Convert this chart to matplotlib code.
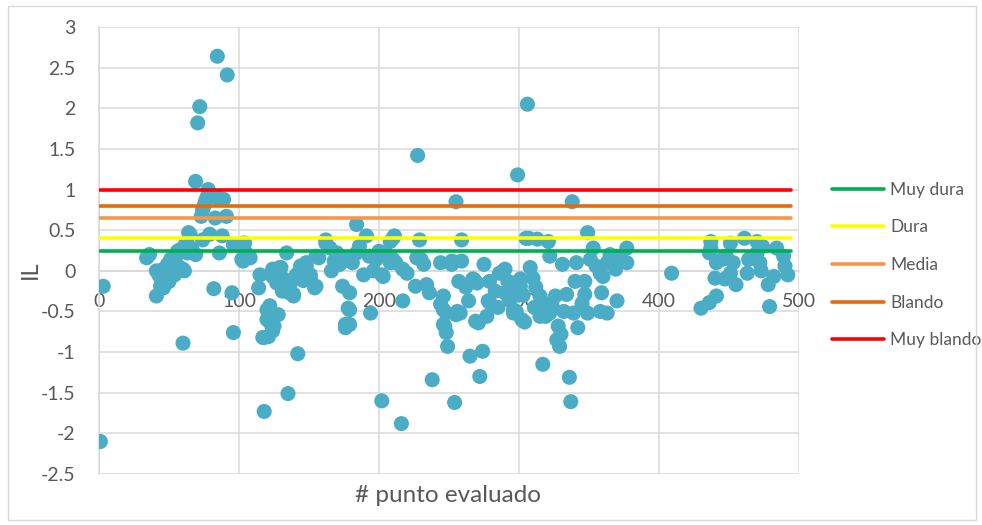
import matplotlib
matplotlib.use("Agg")
import matplotlib.pyplot as plt
from matplotlib.patches import Rectangle

plt.rcParams['font.family'] = ['Lato', 'DejaVu Sans']

# IL per evaluated point
punto = [
    1, 3,
    34, 36, 41, 41, 44, 46, 46, 48, 50, 51, 51, 55, 58, 60, 61, 60, 62, 64, 65,
    53, 56, 63, 66, 57, 54, 49, 45, 43,
    69, 69, 70.5, 72, 73, 74, 74, 75, 77, 78, 79, 82, 82, 83, 84.5, 86, 86, 88, 89,
    91, 91.6, 95, 96, 96, 76, 80, 85,
    101, 102, 103, 104, 105, 108, 103, 114, 115, 117, 118, 118, 120, 120, 121, 122,
    123, 124, 124, 124, 125, 126, 128, 129, 130, 134, 134, 135, 135, 136, 139, 139,
    142, 144, 144, 148, 148, 151, 151, 154, 155, 155, 157,
    132, 137, 141, 146, 127, 131,
    162, 162, 166, 170, 174, 176, 176, 178, 179, 179, 179, 184, 184, 189, 191, 194,
    198, 202, 202, 203, 208, 208,
    165, 168, 172, 176, 181, 186, 193, 196, 200, 205,
    210, 210, 211, 212, 216, 217, 217, 220, 226, 227, 227.6, 229, 230, 232, 234, 236,
    238, 244, 244, 246, 246, 246, 247, 248, 248, 249, 252, 252, 254, 255, 255, 256,
    257, 259, 259, 258,
    264, 265, 267, 268, 269, 270, 271, 272, 274, 275, 277, 278, 279, 279, 286, 289,
    290, 290, 292, 296, 296, 296, 298, 299,
    262, 283, 285, 293, 299, 303, 311, 318, 324, 332, 345, 312,
    301, 301, 302, 304, 305, 306, 307, 308, 310, 313, 314, 315, 315, 317, 319, 321,
    322, 322, 326, 327, 328, 329, 330, 331, 334, 336, 337, 338, 339, 340, 341, 342,
    347, 347, 349, 349, 351, 353, 355, 358, 358, 359, 360, 363, 363, 365, 369, 370,
    370, 372, 377, 377,
    409, 430, 436, 441, 437, 437, 436, 441, 440, 445, 448, 451, 447, 451, 453, 455,
    461, 464, 463, 470, 470, 472, 473, 474, 478, 479, 482, 484, 489, 490, 492,
]
il = [
    -2.1, -0.19,
    0.16, 0.2, 0.0, -0.31, -0.19, -0.21, 0.02, -0.15, -0.13, 0.06, 0.14, 0.18, 0.26,
    0.02, 0.0, -0.89, 0.34, 0.47, 0.45,
    0.1, 0.24, 0.22, 0.28, 0.05, -0.05, 0.08, -0.1, -0.06,
    0.2, 1.1, 1.82, 2.02, 0.67, 0.38, 0.75, 0.8, 0.9, 1.0, 0.45, 0.92, -0.22, 0.65,
    2.64, 0.22, 0.88, 0.43, 0.88, 0.67, 2.41, -0.27, -0.76, 0.32, 0.85, 0.93, 0.9,
    0.3, 0.14, 0.34, 0.34, 0.22, 0.16, 0.12, -0.21, -0.05, -0.82, -1.73, -0.82, -0.6,
    -0.48, -0.81, -0.43, -0.66, 0.02, -0.07, -0.74, -0.68, -0.03, -0.54, 0.04, 0.04,
    0.22, -0.19, -1.51, -0.23, -0.27, -0.31, -0.29, -1.02, 0.06, 0.02, 0.06, 0.1,
    -0.1, -0.05, -0.21, 0.18, -0.19, 0.16,
    -0.1, -0.15, -0.05, -0.12, -0.15, -0.25,
    0.34, 0.38, 0.0, 0.22, -0.19, -0.7, -0.66, -0.46, -0.27, -0.48, -0.66, 0.57, 0.22,
    -0.05, 0.43, -0.52, 0.14, -0.05, -1.6, -0.07, 0.36, 0.1,
    0.28, 0.12, 0.08, 0.15, 0.1, 0.3, 0.18, 0.0, 0.24, 0.2,
    0.4, 0.14, 0.43, 0.1, -1.88, 0.02, -0.37, -0.03, -0.19, 0.16, 1.42, 0.38, 0.14,
    0.08, -0.17, -0.27, -1.34, 0.1, -0.41, -0.31, -0.48, -0.66, -0.68, -0.52, -0.76,
    -0.93, 0.12, 0.08, -1.62, 0.85, -0.54, -0.5, -0.13, 0.38, 0.12, -0.52,
    -0.37, -1.05, -0.1, -0.11, -0.62, -0.15, -0.64, -1.3, -0.99, 0.08, -0.56, -0.37,
    -0.13, -0.39, -0.03, 0.0, 0.02, -0.27, -0.13, -0.15, -0.48, -0.52, -0.5, 1.18,
    -0.2, -0.25, -0.45, -0.35, -0.3, -0.3, -0.45, -0.4, -0.45, -0.5, -0.4, -0.2,
    -0.1, -0.19, -0.6, -0.63, 0.4, 2.05, 0.4, 0.04, -0.09, 0.39, -0.43, -0.31, -0.56,
    -1.15, -0.56, 0.36, 0.18, -0.52, -0.31, -0.85, -0.68, -0.93, -0.78, 0.08, -0.29,
    -1.31, -1.61, 0.85, -0.52, -0.13, 0.1, -0.7, -0.29, -0.13, 0.47, -0.52, 0.14, 0.28,
    0.06, -0.03, -0.5, -0.27, -0.07, 0.1, -0.52, 0.2, 0.02, -0.37, 0.18, 0.14, 0.28,
    0.1,
    -0.03, -0.46, -0.39, -0.31, 0.36, 0.28, 0.22, 0.1, -0.09, 0.14, 0.18, 0.34, -0.1,
    -0.03, 0.1, -0.17, 0.4, 0.14, -0.03, 0.36, 0.22, 0.1, 0.0, 0.3, -0.17, -0.44,
    -0.07, 0.28, 0.18, 0.06, -0.05,
]

# consistency class limits
clases = ['Muy dura', 'Dura', 'Media', 'Blando', 'Muy blando']
limites = [0.25, 0.4, 0.65, 0.8, 1.0]
colores = ['#00B050', '#FFFF00', '#F79646', '#E46C0A', '#FF0000']
rango_x = [1, 494]

grey = '#595959'
grid = '#d9d9d9'

fig = plt.figure(figsize=(9.82, 5.25), dpi=100)
ax = fig.add_axes([99 / 982, 51 / 525, 700 / 982, 447 / 525])

ax.scatter(punto, il, s=118, color='#4BACC6', edgecolors='none', zorder=3)

for nombre, lim, col in zip(clases, limites, colores):
    ax.plot(rango_x, [lim, lim], color=col, linewidth=2.6,
            solid_capstyle='round', label=nombre, zorder=4)

ax.set_xlim(0, 500)
ax.set_ylim(-2.5, 3)
ax.set_xticks(range(0, 501, 100))
ax.set_yticks([3, 2.5, 2, 1.5, 1, 0.5, 0, -0.5, -1, -1.5, -2, -2.5])
ax.set_yticklabels(['3', '2.5', '2', '1.5', '1', '0.5', '0', '-0.5', '-1',
                    '-1.5', '-2', '-2.5'])
ax.grid(True, color=grid, linewidth=1.1, zorder=0)
ax.set_axisbelow(True)

ax.spines['bottom'].set_position(('data', 0))
for side in ['top', 'right']:
    ax.spines[side].set_visible(False)
for side in ['left', 'bottom']:
    ax.spines[side].set_color(grid)
    ax.spines[side].set_linewidth(1.1)
ax.tick_params(axis='x', length=0, pad=16, labelsize=14, labelcolor=grey)
ax.tick_params(axis='y', length=0, pad=17, labelsize=14, labelcolor=grey)

fig.text(30 / 982, 1 - 270 / 525, 'IL', rotation=90, fontsize=17,
         color=grey, ha='center', va='center')
fig.text(448 / 982, 1 - 495 / 525, '# punto evaluado', fontsize=17.5,
         color=grey, ha='center', va='center')

leg = ax.legend(loc='center left', bbox_to_anchor=(832 / 982, 1 - 265 / 525),
                bbox_transform=fig.transFigure, frameon=False, fontsize=12.5,
                handlelength=3.0, handletextpad=0.35, labelspacing=1.25,
                borderpad=0, borderaxespad=0)
for txt in leg.get_texts():
    txt.set_color(grey)

fig.patches.append(Rectangle((8 / 982, 5 / 525), 968 / 982, 514 / 525,
                             transform=fig.transFigure, fill=False,
                             edgecolor=grid, linewidth=1))

fig.savefig('out.png', dpi=100)
